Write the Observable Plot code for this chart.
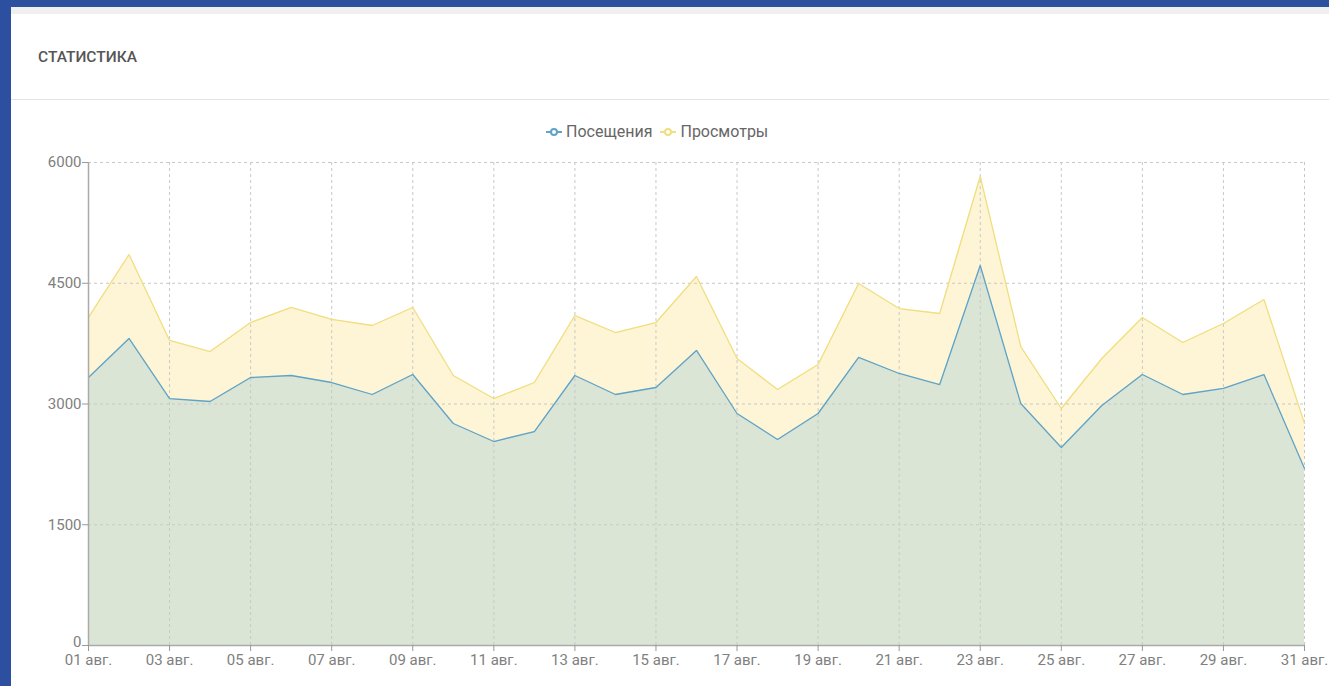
<!DOCTYPE html>
<html><head><meta charset="utf-8">
<script src="https://cdn.jsdelivr.net/npm/d3@7"></script>
<script src="https://cdn.jsdelivr.net/npm/@observablehq/plot@0.6"></script>
<style>
html,body{margin:0;padding:0;width:1329px;height:686px;overflow:hidden;background:#2c4f9f;font-family:Roboto,"Noto Sans",sans-serif;}
#panel{position:absolute;left:11px;top:7px;width:1330px;height:700px;background:#fff;border-top:7px solid #efefef;}
#title{position:absolute;left:27px;top:34px;font-size:15.5px;font-weight:500;color:#555;}
#sep{position:absolute;left:0;top:85px;width:100%;height:1px;background:#e4e4e4;}
#legend{position:absolute;left:545px;top:122px;font-size:16px;color:#666;display:flex;align-items:center;}
#legend span{display:inline-flex;align-items:center;margin-right:7px;}
#chart{position:absolute;left:0;top:150px;}
</style></head><body>
<div id="panel"><div id="title">СТАТИСТИКА</div><div id="sep"></div></div>
<div id="legend"></div>
<div id="chart"></div>
<script>
const days = d3.range(1, 32);
const visits = [3329,3814,3068,3031,3329,3354,3267,3118,3366,2758,2534,2658,3354,3118,3205,3665,2882,2559,2882,3578,3379,3242,4720,3006,2460,2981,3366,3118,3193,3366,2199];
const views  = [4075,4857,3789,3652,4012,4199,4050,3975,4199,3354,3068,3267,4099,3888,4012,4584,3565,3180,3491,4497,4186,4124,5826,3714,2944,3565,4075,3764,4000,4298,2758];
const seriesNames = ["Посещения","Просмотры"];
const seriesColors = ["#5fa3c6","#f1de7e"];
const xTicks = d3.range(1, 32, 2);
const yTicks = [0,1500,3000,4500,6000];
const monthLabel = "авг.";

const data = days.map((d,i)=>({day:d, visits:visits[i], views:views[i]}));

const legend = document.getElementById("legend");
seriesNames.forEach((n,i)=>{
  const s=document.createElement("span");
  s.innerHTML=`<svg width="18" height="10" style="margin-right:3px"><line x1="1" y1="5" x2="17" y2="5" stroke="${seriesColors[i]}" stroke-width="2"/><circle cx="9" cy="5" r="3" fill="#fff" stroke="${seriesColors[i]}" stroke-width="2"/></svg>${n}`;
  legend.appendChild(s);
});

const fmtX = d=>String(d).padStart(2,"0")+" "+monthLabel;
const chart = Plot.plot({
  width:1329, height:536,
  marginLeft:88, marginRight:25, marginTop:12, marginBottom:41,
  style:{fontFamily:"Roboto, sans-serif", fontSize:"15px", color:"#808080", background:"transparent"},
  x:{domain:[1,31], label:null},
  y:{domain:[0,6000], label:null},
  marks:[
    Plot.areaY(data,{x:"day", y:"views", fill:"#fdf5d6", curve:"linear"}),
    Plot.areaY(data,{x:"day", y:"visits", fill:"#dbe5d6", curve:"linear"}),
    Plot.gridX(xTicks,{stroke:"#c8c8c8", strokeOpacity:1, strokeDasharray:"3,3"}),
    Plot.gridY(yTicks,{stroke:"#c8c8c8", strokeOpacity:1, strokeDasharray:"3,3"}),
    Plot.lineY(data,{x:"day", y:"views", stroke:seriesColors[1], strokeWidth:1.3}),
    Plot.lineY(data,{x:"day", y:"visits", stroke:seriesColors[0], strokeWidth:1.3}),
    Plot.ruleX([1],{stroke:"#aaa", strokeWidth:1.5}),
    Plot.ruleY([0],{stroke:"#aaa", strokeWidth:1.5}),
    Plot.axisX({ticks:xTicks, tickFormat:fmtX, stroke:"#999", tickSize:6, tickPadding:3, fill:"#808080", fontSize:15}),
    Plot.axisY({ticks:yTicks, tickFormat:d=>d===0?"":String(d), stroke:"#999", tickSize:6, tickPadding:1, fill:"#808080", fontSize:15}),
    Plot.axisY({ticks:yTicks.slice(0,1), tickFormat:d=>String(d), tickSize:0, tickPadding:7, fill:"#808080", fontSize:15, dy:-3})
  ]
});
document.getElementById("chart").appendChild(chart);
</script>
</body></html>
